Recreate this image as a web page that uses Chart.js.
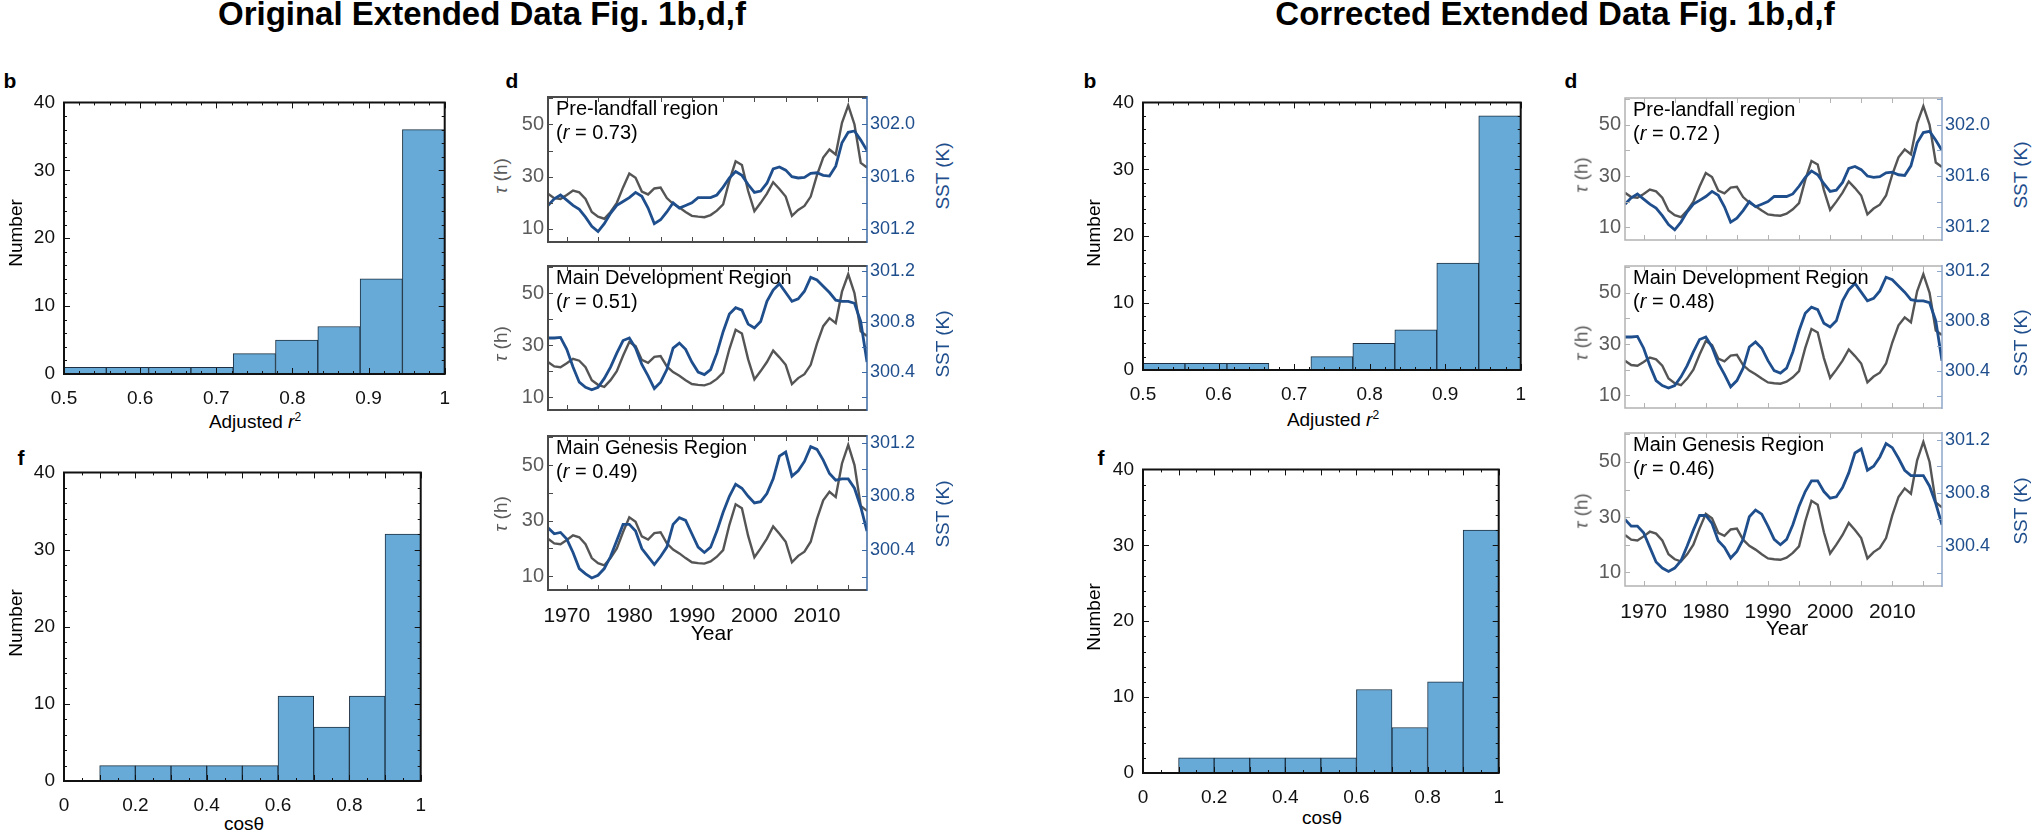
<!DOCTYPE html>
<html>
<head>
<meta charset="utf-8">
<script src="https://cdn.jsdelivr.net/npm/chart.js@4.4.1/dist/chart.umd.min.js"></script>
<style>
  body { margin: 0; background: #fff; }
  #fig { position: relative; width: 2039px; height: 834px; background: #fff; overflow: hidden;
         font-family: "Liberation Sans", Arial, sans-serif; }
  #fig canvas { position: absolute; }
  .t { position: absolute; white-space: nowrap; line-height: 1; color: #000; transform: translate(-50%, -50%); }
  .lt { transform: translate(0, -50%); }
  .rot { transform: translate(-50%, -50%) rotate(-90deg); }
  .bold { font-weight: bold; }
</style>
</head>
<body>
<div id="fig"></div>
<script>
// ---- data ----
const years = [1967, 1968, 1969, 1970, 1971, 1972, 1973, 1974, 1975, 1976,
  1977, 1978, 1979, 1980, 1981, 1982, 1983, 1984, 1985, 1986,
  1987, 1988, 1989, 1990, 1991, 1992, 1993, 1994, 1995, 1996,
  1997, 1998, 1999, 2000, 2001, 2002, 2003, 2004, 2005, 2006,
  2007, 2008, 2009, 2010, 2011, 2012, 2013, 2014, 2015, 2016,
  2017, 2018];

// tau (h), grey line, same in every panel
const tauHours = [23.5, 21.8, 21.5, 23.0, 24.7, 24.0, 21.5, 16.5, 14.7, 13.9,
  16.5, 20.0, 25.9, 31.2, 29.6, 24.3, 23.2, 25.5, 25.8, 21.8,
  19.6, 18.2, 16.5, 15.0, 14.7, 14.5, 15.3, 17.0, 19.4, 28.5,
  35.9, 34.5, 24.5, 16.8, 20.0, 23.5, 27.9, 25.3, 22.4, 15.0,
  17.3, 18.8, 22.4, 30.6, 37.3, 40.4, 38.5, 50.6, 57.3, 50.0,
  35.3, 33.5];

// SST (K), blue lines
const sstPreOrig = [301.38, 301.43, 301.46, 301.42, 301.38, 301.35, 301.29, 301.22, 301.18, 301.24,
  301.32, 301.38, 301.41, 301.44, 301.48, 301.45, 301.36, 301.24, 301.27, 301.33,
  301.40, 301.36, 301.38, 301.40, 301.44, 301.44, 301.44, 301.46, 301.52, 301.59,
  301.64, 301.61, 301.54, 301.48, 301.49, 301.55, 301.66, 301.675, 301.65, 301.60,
  301.59, 301.595, 301.625, 301.63, 301.61, 301.605, 301.68, 301.86, 301.94, 301.95,
  301.88, 301.80];
const sstMdrOrig = [300.67, 300.67, 300.675, 300.58, 300.44, 300.32, 300.28, 300.26, 300.28, 300.35,
  300.44, 300.55, 300.65, 300.67, 300.59, 300.46, 300.37, 300.27, 300.32, 300.42,
  300.59, 300.63, 300.58, 300.48, 300.40, 300.38, 300.42, 300.55, 300.72, 300.86,
  300.91, 300.89, 300.78, 300.75, 300.80, 300.96, 301.05, 301.10, 301.03, 300.96,
  300.98, 301.04, 301.15, 301.13, 301.08, 301.03, 300.97, 300.96, 300.96, 300.945,
  300.80, 300.48];
const sstMgrOrig = [300.565, 300.52, 300.53, 300.48, 300.38, 300.26, 300.22, 300.19, 300.21, 300.26,
  300.35, 300.47, 300.59, 300.59, 300.54, 300.41, 300.35, 300.29, 300.35, 300.42,
  300.59, 300.64, 300.62, 300.52, 300.42, 300.38, 300.42, 300.54, 300.68, 300.80,
  300.89, 300.86, 300.80, 300.75, 300.76, 300.82, 300.93, 301.10, 301.13, 300.95,
  300.99, 301.06, 301.17, 301.15, 301.07, 300.97, 300.92, 300.93, 300.93, 300.86,
  300.72, 300.54];

const sstPreCorr = [301.38, 301.43, 301.46, 301.42, 301.38, 301.35, 301.29, 301.22, 301.18, 301.24,
  301.32, 301.38, 301.41, 301.44, 301.48, 301.45, 301.36, 301.24, 301.27, 301.33,
  301.40, 301.36, 301.38, 301.40, 301.44, 301.44, 301.44, 301.46, 301.52, 301.59,
  301.64, 301.61, 301.54, 301.48, 301.49, 301.55, 301.66, 301.675, 301.65, 301.60,
  301.59, 301.595, 301.625, 301.63, 301.61, 301.605, 301.68, 301.86, 301.94, 301.95,
  301.88, 301.80];
const sstMdrCorr = [300.67, 300.67, 300.675, 300.58, 300.44, 300.32, 300.28, 300.26, 300.28, 300.35,
  300.44, 300.55, 300.65, 300.67, 300.59, 300.46, 300.37, 300.27, 300.32, 300.42,
  300.59, 300.63, 300.58, 300.48, 300.40, 300.38, 300.42, 300.55, 300.72, 300.86,
  300.91, 300.89, 300.78, 300.75, 300.80, 300.96, 301.05, 301.10, 301.03, 300.96,
  300.98, 301.04, 301.15, 301.13, 301.08, 301.03, 300.97, 300.96, 300.96, 300.945,
  300.80, 300.48];
const sstMgrCorr = [300.60, 300.55, 300.55, 300.50, 300.39, 300.28, 300.235, 300.21, 300.235, 300.29,
  300.40, 300.52, 300.63, 300.63, 300.57, 300.44, 300.39, 300.31, 300.36, 300.45,
  300.62, 300.67, 300.64, 300.55, 300.45, 300.41, 300.45, 300.56, 300.70, 300.81,
  300.89, 300.89, 300.81, 300.76, 300.77, 300.84, 300.95, 301.10, 301.13, 300.97,
  301.00, 301.07, 301.17, 301.14, 301.06, 300.97, 300.93, 300.93, 300.93, 300.85,
  300.72, 300.56];

// histograms
const r2BinCenters = [0.52778, 0.58333, 0.63889, 0.69444, 0.75, 0.80556, 0.86111, 0.91667, 0.97222];
const r2CountsOrig = [1, 1, 1, 1, 3, 5, 7, 14, 36];
const r2CountsCorr = [1, 1, 1, 0, 2, 4, 6, 16, 38];
const cosBinCenters = [0.05, 0.15, 0.25, 0.35, 0.45, 0.55, 0.65, 0.75, 0.85, 0.95];
const cosCountsOrig = [0, 2, 2, 2, 2, 2, 11, 7, 11, 32];
const cosCountsCorr = [0, 2, 2, 2, 2, 2, 11, 6, 12, 32];

// tick labels
const r2Ticks = [0.5, 0.6, 0.7, 0.8, 0.9, 1];
const cosTicks = [0, 0.2, 0.4, 0.6, 0.8, 1];
const countTicks = [0, 10, 20, 30, 40];
const yearTicks = [1970, 1980, 1990, 2000, 2010];
const tauTicks = [10, 30, 50];
const sstTicksPre = [301.2, 301.6, 302.0];
const sstTicksMain = [300.4, 300.8, 301.2];

// ---- styling ----
const HIST_FILL = '#67aad8';
const HIST_EDGE = '#1c3042';
const GRAY_LINE = '#555555';
const BLUE_LINE = '#1f4e8d';
const GRAY_TXT = '#5c5c5c';
const BLUE_TXT = '#1f4e8d';
const FONT = 'Liberation Sans';

Chart.defaults.font.family = FONT;

const fig = document.getElementById('fig');

function addCanvas(box, pad) {
  const c = document.createElement('canvas');
  const w = box.r - box.l + pad.l + pad.r;
  const h = box.b - box.t + pad.t + pad.b;
  c.width = w; c.height = h;
  c.style.left = (box.l - pad.l) + 'px';
  c.style.top = (box.t - pad.t) + 'px';
  c.style.width = w + 'px';
  c.style.height = h + 'px';
  fig.appendChild(c);
  return c;
}

function addText(html, x, y, cls, css) {
  const d = document.createElement('div');
  d.className = 't ' + (cls || '');
  d.innerHTML = html;
  d.style.left = x + 'px';
  d.style.top = y + 'px';
  Object.assign(d.style, css || {});
  fig.appendChild(d);
  return d;
}

function tickVals(scale, step) {
  const out = [];
  for (let k = Math.ceil(scale.min / step - 1e-6); k * step <= scale.max + 1e-6; k++) out.push(k * step);
  return out;
}

// box frame with inward ticks, matlab style
const frameTicks = {
  id: 'frameTicks',
  afterDatasetsDraw(chart, args, o) {
    if (!o.color) return;
    const { ctx, chartArea: a, scales } = chart;
    ctx.save();
    ctx.lineWidth = 1;
    ctx.strokeStyle = o.color;
    ctx.beginPath();
    for (const t of o.x) {
      for (const v of tickVals(scales.x, t.step)) {
        const px = Math.round(scales.x.getPixelForValue(v)) + 0.5;
        ctx.moveTo(px, a.bottom); ctx.lineTo(px, a.bottom - t.len);
        ctx.moveTo(px, a.top); ctx.lineTo(px, a.top + t.len);
      }
    }
    for (const t of o.y) {
      for (const v of tickVals(scales.y, t.step)) {
        const py = Math.round(scales.y.getPixelForValue(v)) + 0.5;
        ctx.moveTo(a.left, py); ctx.lineTo(a.left + t.len, py);
        if (!o.y2) { ctx.moveTo(a.right, py); ctx.lineTo(a.right - t.len, py); }
      }
    }
    ctx.stroke();
    if (o.y2) {
      ctx.strokeStyle = o.rightColor;
      ctx.beginPath();
      for (const t of o.y2) {
        for (const v of tickVals(scales.y2, t.step)) {
          const py = Math.round(scales.y2.getPixelForValue(v)) + 0.5;
          ctx.moveTo(a.right, py); ctx.lineTo(a.right - t.len, py);
        }
      }
      ctx.stroke();
    }
    ctx.lineWidth = o.frameWidth;
    ctx.strokeStyle = o.color;
    ctx.beginPath();
    ctx.moveTo(a.right, a.top);
    ctx.lineTo(a.left, a.top);
    ctx.lineTo(a.left, a.bottom);
    ctx.lineTo(a.right, a.bottom);
    if (!o.y2) ctx.closePath();
    ctx.stroke();
    if (o.y2) {
      ctx.strokeStyle = o.rightColor;
      ctx.lineWidth = o.rightWidth;
      ctx.beginPath();
      ctx.moveTo(a.right, a.top - 1);
      ctx.lineTo(a.right, a.bottom + 1);
      ctx.stroke();
    }
    ctx.restore();
  }
};
Chart.register(frameTicks);

const noGrid = { display: false, drawTicks: false };

function histChart(box, centers, counts, xMin, xMax, xLabels, xMinor) {
  const pad = { l: 44, r: 16, t: 12, b: 30 };
  const canvas = addCanvas(box, pad);
  return new Chart(canvas, {
    type: 'bar',
    data: {
      datasets: [{
        data: centers.map((c, i) => ({ x: c, y: counts[i] })),
        backgroundColor: HIST_FILL,
        borderColor: HIST_EDGE,
        borderWidth: 1,
        borderSkipped: false,
        barPercentage: 1,
        categoryPercentage: 1
      }]
    },
    options: {
      responsive: false,
      animation: false,
      devicePixelRatio: 1,
      layout: { padding: { top: pad.t, right: pad.r, left: 0, bottom: 0 } },
      plugins: {
        legend: { display: false },
        tooltip: { enabled: false },
        frameTicks: {
          color: '#111', frameWidth: 2,
          x: [{ step: xMinor, len: 3 }, { step: 0.1, len: 6 }],
          y: [{ step: 2, len: 3 }, { step: 10, len: 6 }]
        }
      },
      scales: {
        x: {
          type: 'linear', min: xMin, max: xMax, offset: false,
          afterBuildTicks: s => { s.ticks = xLabels.map(v => ({ value: v })); },
          afterFit: s => { s.height = pad.b; },
          grid: noGrid, border: { display: false },
          ticks: { font: { size: 19 }, color: '#111', padding: 13, maxRotation: 0, autoSkip: false,
                   callback: v => String(+v.toFixed(2)) }
        },
        y: {
          min: 0, max: 40,
          afterBuildTicks: s => { s.ticks = countTicks.map(v => ({ value: v })); },
          afterFit: s => { s.width = pad.l; },
          grid: noGrid, border: { display: false },
          ticks: { font: { size: 19 }, color: '#111', padding: 9, callback: v => String(v) }
        }
      }
    }
  });
}

function panelChart(box, sst, rMin, rMax, rTicks, showYears, st) {
  const pad = { l: 36, r: 56, t: 12, b: showYears ? 32 : 6 };
  const canvas = addCanvas(box, pad);
  return new Chart(canvas, {
    type: 'line',
    data: {
      datasets: [
        { data: years.map((y, i) => ({ x: y, y: sst[i] })), yAxisID: 'y2',
          borderColor: BLUE_LINE, borderWidth: 2.8, pointRadius: 0, tension: 0 },
        { data: years.map((y, i) => ({ x: y, y: tauHours[i] })), yAxisID: 'y',
          borderColor: GRAY_LINE, borderWidth: 2.4, pointRadius: 0, tension: 0 }
      ]
    },
    options: {
      responsive: false,
      animation: false,
      devicePixelRatio: 1,
      layout: { padding: { top: pad.t, right: 0, left: 0, bottom: 0 } },
      plugins: {
        legend: { display: false },
        tooltip: { enabled: false },
        frameTicks: {
          color: st.frame, frameWidth: st.frameWidth, rightColor: st.right, rightWidth: 1.5,
          x: [{ step: 5, len: 5 }],
          y: [{ step: 10, len: 5 }],
          y2: [{ step: 0.2, len: 5 }]
        }
      },
      scales: {
        x: {
          type: 'linear', min: 1967, max: 2018,
          afterBuildTicks: s => { s.ticks = yearTicks.map(v => ({ value: v })); },
          afterFit: s => { s.height = pad.b; },
          grid: noGrid, border: { display: false },
          ticks: { display: showYears, font: { size: 21 }, color: '#111', padding: 14,
                   maxRotation: 0, autoSkip: false, callback: v => String(v) }
        },
        y: {
          position: 'left', min: 5, max: 60.5,
          afterBuildTicks: s => { s.ticks = tauTicks.map(v => ({ value: v })); },
          afterFit: s => { s.width = pad.l; },
          grid: noGrid, border: { display: false },
          ticks: { font: { size: 20 }, color: GRAY_TXT, padding: 4, callback: v => String(v) }
        },
        y2: {
          position: 'right', min: rMin, max: rMax,
          afterBuildTicks: s => { s.ticks = rTicks.map(v => ({ value: v })); },
          afterFit: s => { s.width = pad.r; },
          grid: noGrid, border: { display: false },
          ticks: { font: { size: 18 }, color: BLUE_TXT, padding: 3, callback: v => v.toFixed(1) }
        }
      }
    }
  });
}

// ---- layout ----
const ORIG_STYLE = { frame: '#4a4a4a', frameWidth: 2, right: '#3b68a3' };
const CORR_STYLE = { frame: '#b3b3b3', frameWidth: 1.5, right: '#8ea6c8' };

const halves = [
  {
    title: 'Original Extended Data Fig. 1b,d,f', titleX: 482,
    hb: { l: 64, r: 447, t: 94, b: 374 }, hf: { l: 64, r: 423, t: 464, b: 781 },
    r2: r2CountsOrig, cos: cosCountsOrig,
    bLab: [10, 80], fLab: [21, 457], dLab: [512, 80],
    numX: 15, numY: [233, 623], adj: [255, 421], cosT: [244, 823],
    panels: [{ l: 548, r: 867, t: 93, b: 252 }, { l: 548, r: 867, t: 262, b: 420 }, { l: 548, r: 867, t: 432, b: 590 }],
    sst: [sstPreOrig, sstMdrOrig, sstMgrOrig],
    names: ['Pre-landfall region', 'Main Development Region', 'Main Genesis Region'],
    rvals: ['0.73)', '0.51)', '0.49)'],
    tauX: 500, sstX: 942, year: [712, 632], style: ORIG_STYLE
  },
  {
    title: 'Corrected Extended Data Fig. 1b,d,f', titleX: 1555,
    hb: { l: 1143, r: 1523, t: 94, b: 370 }, hf: { l: 1143, r: 1501, t: 461, b: 773 },
    r2: r2CountsCorr, cos: cosCountsCorr,
    bLab: [1090, 80], fLab: [1101, 457], dLab: [1571, 80],
    numX: 1093, numY: [233, 617], adj: [1333, 419], cosT: [1322, 817],
    panels: [{ l: 1625, r: 1942, t: 94, b: 250 }, { l: 1625, r: 1942, t: 262, b: 418 }, { l: 1625, r: 1942, t: 429, b: 586 }],
    sst: [sstPreCorr, sstMdrCorr, sstMgrCorr],
    names: ['Pre-landfall region', 'Main Development Region', 'Main Genesis Region'],
    rvals: ['0.72 )', '0.48)', '0.46)'],
    tauX: 1581, sstX: 2020, year: [1787, 627], style: CORR_STYLE
  }
];

const sstRanges = [[301.1, 302.21, sstTicksPre], [300.1, 301.24, sstTicksMain], [300.1, 301.25, sstTicksMain]];

halves.forEach(h => {
  addText(h.title, h.titleX, 13, 'bold', { fontSize: '33px' });
  addText('b', h.bLab[0], h.bLab[1], 'bold', { fontSize: '21px' });
  addText('f', h.fLab[0], h.fLab[1], 'bold', { fontSize: '21px' });
  addText('d', h.dLab[0], h.dLab[1], 'bold', { fontSize: '21px' });

  histChart(h.hb, r2BinCenters, h.r2, 0.5, 1, r2Ticks, 0.02);
  histChart(h.hf, cosBinCenters, h.cos, 0, 1, cosTicks, 0.05);
  addText('Number', h.numX, h.numY[0], 'rot', { fontSize: '19px' });
  addText('Number', h.numX, h.numY[1], 'rot', { fontSize: '19px' });
  addText('Adjusted <i>r</i><sup style="font-size:12px;vertical-align:7px">2</sup>', h.adj[0], h.adj[1], '', { fontSize: '19px' });
  addText('cos\u03b8', h.cosT[0], h.cosT[1], '', { fontSize: '19px' });

  h.panels.forEach((box, i) => {
    const rr = sstRanges[i];
    panelChart(box, h.sst[i], rr[0], rr[1], rr[2], i === 2, h.style);
    addText(h.names[i], box.l + 8, box.t + 15, 'lt', { fontSize: '20px' });
    addText('(<i>r</i> = ' + h.rvals[i], box.l + 8, box.t + 39, 'lt', { fontSize: '20px' });
    const cy = (box.t + box.b) / 2 + 3;
    addText('<i>\u03c4</i> (h)', h.tauX, cy, 'rot', { fontSize: '19px', color: GRAY_TXT });
    addText('SST (K)', h.sstX, cy, 'rot', { fontSize: '19px', color: BLUE_TXT });
  });
  addText('Year', h.year[0], h.year[1], '', { fontSize: '21px' });
});
</script>
</body>
</html>
